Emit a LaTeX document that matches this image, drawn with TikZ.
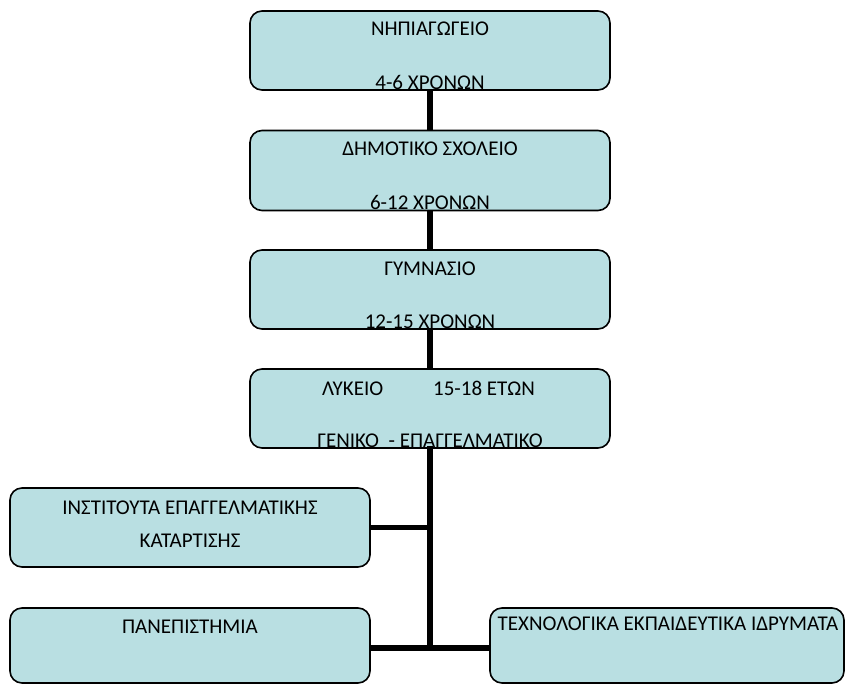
\documentclass[tikz,border=0pt]{standalone}
\usepackage{fontspec}
\setmainfont{Carlito}
\definecolor{boxfill}{HTML}{B9DFE2}
\begin{document}
\begin{tikzpicture}[x=1pt,y=-1pt,
  box/.style={draw=black,fill=boxfill,line width=1.6pt,rounded corners=12pt,inner sep=0pt},
  txt/.style={anchor=base,inner sep=0pt,font=\fontsize{21}{25}\selectfont},
  conn/.style={draw=black,line width=5.5pt}]
\useasboundingbox (0,0) rectangle (845,684);
% boxes
\node[box,minimum width=360pt,minimum height=79pt] (b1) at (430,50.5) {};
\node[box,minimum width=360pt,minimum height=80pt] (b2) at (430,170.5) {};
\node[box,minimum width=360pt,minimum height=79pt] (b3) at (430,289.5) {};
\node[box,minimum width=360pt,minimum height=79pt] (b4) at (430,408.5) {};
\node[box,minimum width=360pt,minimum height=79pt] (inst) at (190,527.5) {};
\node[box,minimum width=360pt,minimum height=75pt] (uni) at (190,645.5) {};
\node[box,minimum width=354pt,minimum height=75pt] (tei) at (667,645.5) {};
% texts
\node[txt] (t1a) at (430,36) {ΝΗΠΙΑΓΩΓΕΙΟ};
\node[txt] (t1b) at (430,90) {4-6 ΧΡΟΝΩΝ};
\node[txt] (t2a) at (430,156) {ΔΗΜΟΤΙΚΟ ΣΧΟΛΕΙΟ};
\node[txt] (t2b) at (430,210) {6-12 ΧΡΟΝΩΝ};
\node[txt] (t3a) at (430,276) {ΓΥΜΝΑΣΙΟ};
\node[txt] (t3b) at (430,328) {12-15 ΧΡΟΝΩΝ};
\node[txt] (t4a) at (428.5,395) {ΛΥΚΕΙΟ\hspace{50pt}15-18 ΕΤΩΝ};
\node[txt] (t4b) at (430,447) {ΓΕΝΙΚΟ\ \ - ΕΠΑΓΓΕΛΜΑΤΙΚΟ};
\node[txt] (t5a) at (190,514) {ΙΝΣΤΙΤΟΥΤΑ ΕΠΑΓΓΕΛΜΑΤΙΚΗΣ};
\node[txt] (t5b) at (190,547) {ΚΑΤΑΡΤΙΣΗΣ};
\node[txt] (t6) at (190,633) {ΠΑΝΕΠΙΣΤΗΜΙΑ};
\node[txt] (t7) at (668,630) {ΤΕΧΝΟΛΟΓΙΚΑ ΕΚΠΑΙΔΕΥΤΙΚΑ ΙΔΡΥΜΑΤΑ};
% connectors
\coordinate (j2) at (430,648);
\draw[conn] (b1.south) -- (b2.north);
\draw[conn] (b2.south) -- (b3.north);
\draw[conn] (b3.south) -- (b4.north);
\draw[conn,line cap=rect] (b4.south) -- (j2);
\draw[conn] (inst.east) -- (inst.east -| j2);
\draw[conn] (uni.east |- j2) -- (tei.west |- j2);
\end{tikzpicture}
\end{document}
